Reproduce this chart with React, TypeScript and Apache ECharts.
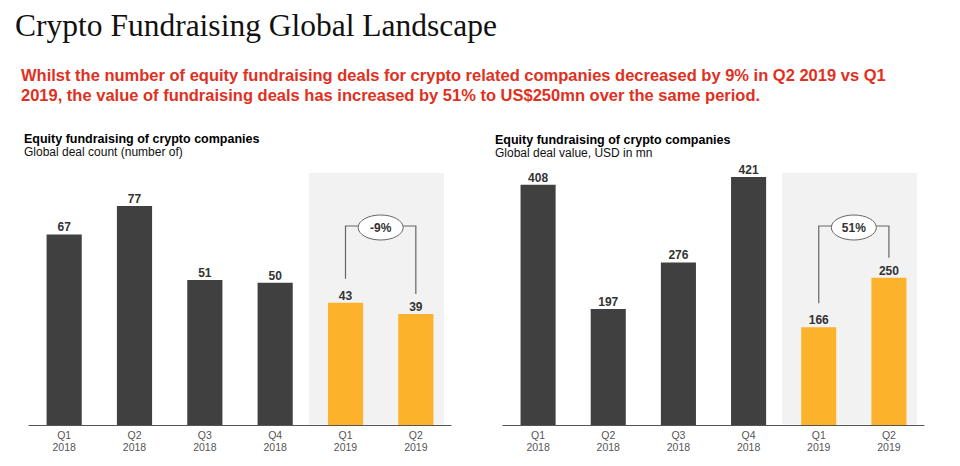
import React, { useEffect, useRef } from 'react';
import * as echarts from 'echarts';

const categories = ['Q1\n2018', 'Q2\n2018', 'Q3\n2018', 'Q4\n2018', 'Q1\n2019', 'Q2\n2019'];
const dealCount = [67, 77, 51, 50, 43, 39];
const dealValue = [408, 197, 276, 421, 166, 250];
const highlighted = [false, false, false, false, true, true];
const countChangeLabel = '-9%';
const valueChangeLabel = '51%';
const countAxisMax = 88.6;
const valueAxisMax = 428;

const titleText = 'Crypto Fundraising Global Landscape';
const subtitleLines = [
  'Whilst the number of equity fundraising deals for crypto related companies decreased by 9% in Q2 2019 vs Q1',
  '2019, the value of fundraising deals has increased by 51% to US$250mn over the same period.',
];
const chartHeading = 'Equity fundraising of crypto companies';
const leftSubheading = 'Global deal count (number of)';
const rightSubheading = 'Global deal value, USD in mn';

const DARK = '#404040';
const ORANGE = '#fdb22b';
const GREY_BG = '#f2f2f2';
const RED = '#e0301e';
const SANS = 'Liberation Sans, Arial, Helvetica, sans-serif';

const GRID_TOP = 173;
const GRID_BOTTOM = 41;

function makeSeries(values: number[], idx: number) {
  return {
    type: 'bar',
    xAxisIndex: idx,
    yAxisIndex: idx,
    barWidth: '50%',
    z: 5,
    data: values.map((v, i) => ({
      value: v,
      itemStyle: { color: highlighted[i] ? ORANGE : DARK },
    })),
    label: {
      show: true,
      position: 'top',
      distance: 1,
      fontFamily: SANS,
      fontWeight: 'bold',
      fontSize: 12,
      color: '#333333',
    },
  };
}

function xAxisDef(idx: number) {
  return {
    type: 'category',
    gridIndex: idx,
    data: categories,
    axisTick: { show: false },
    axisLine: { lineStyle: { color: '#555555', width: 1 } },
    axisLabel: {
      fontFamily: SANS,
      fontSize: 10.5,
      color: '#555555',
      lineHeight: 12,
      margin: 4,
    },
  };
}

function yAxisDef(idx: number, max: number) {
  return {
    type: 'value',
    gridIndex: idx,
    min: 0,
    max,
    show: false,
    splitLine: { show: false },
  };
}

export default function App() {
  const ref = useRef<HTMLDivElement>(null);

  useEffect(() => {
    if (!ref.current) return;
    const chart = echarts.init(ref.current, undefined, { renderer: 'svg' });
    chart.setOption({
      animation: false,
      backgroundColor: '#ffffff',
      grid: [
        { left: 29, right: 509, top: GRID_TOP, bottom: GRID_BOTTOM },
        { left: 503, right: 36, top: GRID_TOP, bottom: GRID_BOTTOM },
      ],
      xAxis: [xAxisDef(0), xAxisDef(1)],
      yAxis: [yAxisDef(0, countAxisMax), yAxisDef(1, valueAxisMax)],
      series: [makeSeries(dealCount, 0), makeSeries(dealValue, 1)],
    });

    const graphics: any[] = [
      {
        type: 'text',
        x: 15,
        y: 25,
        style: {
          text: titleText,
          font: '31.5px "Liberation Serif", Georgia, serif',
          fill: '#111111',
          verticalAlign: 'middle',
        },
      },
      ...subtitleLines.map((line, i) => ({
        type: 'text',
        x: 21,
        y: 75 + i * 20,
        style: {
          text: line,
          font: `bold 16.5px ${SANS}`,
          fill: RED,
          verticalAlign: 'middle',
        },
      })),
      {
        type: 'text', x: 24, y: 139,
        style: { text: chartHeading, font: `bold 12.5px ${SANS}`, fill: '#000', verticalAlign: 'middle' },
      },
      {
        type: 'text', x: 24, y: 152,
        style: { text: leftSubheading, font: `12px ${SANS}`, fill: '#111', verticalAlign: 'middle' },
      },
      {
        type: 'text', x: 495, y: 140,
        style: { text: chartHeading, font: `bold 12.5px ${SANS}`, fill: '#000', verticalAlign: 'middle' },
      },
      {
        type: 'text', x: 495, y: 153,
        style: { text: rightSubheading, font: `12px ${SANS}`, fill: '#111', verticalAlign: 'middle' },
      },
    ];

    const addBracket = (idx: number, values: number[], label: string) => {
      const finder = { xAxisIndex: idx, yAxisIndex: idx } as any;
      const first = highlighted.indexOf(true);
      const last = highlighted.lastIndexOf(true);
      const p0 = chart.convertToPixel(finder, [0, 0]) as number[];
      const p1 = chart.convertToPixel(finder, [1, 0]) as number[];
      const bw = p1[0] - p0[0];
      const a = chart.convertToPixel(finder, [first, values[first]]) as number[];
      const b = chart.convertToPixel(finder, [last, values[last]]) as number[];
      const axisY = p0[1];
      const left = a[0] - bw * 0.52;
      const right = b[0] + bw * 0.4;
      graphics.push({
        type: 'rect',
        z: 0,
        shape: { x: left, y: GRID_TOP, width: right - left, height: axisY - GRID_TOP - 0.5 },
        style: { fill: GREY_BG },
      });
      const topY = GRID_TOP + 53;
      const cx = (a[0] + b[0]) / 2;
      const rx = 22.5;
      const ry = 12.5;
      const lineStyle = { stroke: '#666666', lineWidth: 1.2, fill: 'none' };
      graphics.push({
        type: 'polyline',
        z: 10,
        shape: { points: [[a[0], a[1] - 24], [a[0], topY], [cx - rx, topY]] },
        style: lineStyle,
      });
      graphics.push({
        type: 'polyline',
        z: 10,
        shape: { points: [[cx + rx, topY], [b[0], topY], [b[0], b[1] - 20]] },
        style: lineStyle,
      });
      graphics.push({
        type: 'ellipse',
        z: 10,
        shape: { cx, cy: topY + 1.5, rx, ry },
        style: { fill: '#ffffff', stroke: '#666666', lineWidth: 1 },
      });
      graphics.push({
        type: 'text',
        z: 11,
        x: cx,
        y: topY + 1.5,
        style: {
          text: label,
          font: `bold 12px ${SANS}`,
          fill: '#333333',
          align: 'center',
          verticalAlign: 'middle',
        },
      });
    };

    addBracket(0, dealCount, countChangeLabel);
    addBracket(1, dealValue, valueChangeLabel);

    chart.setOption({ graphic: { elements: graphics } });

    return () => chart.dispose();
  }, []);

  return (
    <div
      ref={ref}
      style={{ position: 'fixed', left: 0, top: 0, width: 960, height: 466 }}
    />
  );
}
